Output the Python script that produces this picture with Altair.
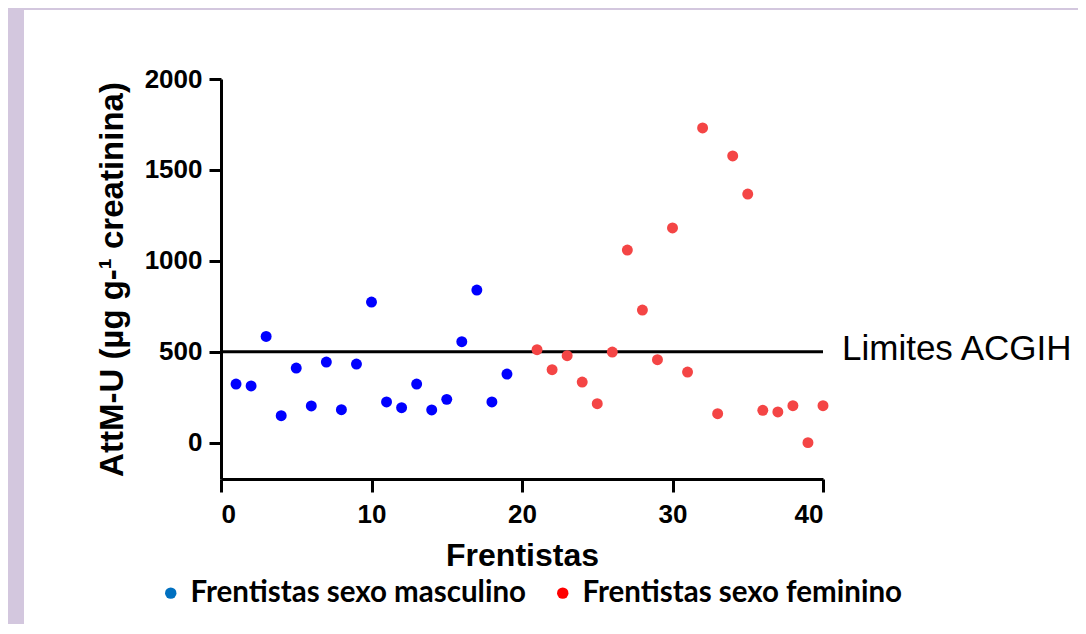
import altair as alt
import pandas as pd

# ---- data ----
male_ids = [1, 2, 3, 4, 5, 6, 7, 8, 9, 10, 11, 12, 13, 14, 15, 16, 17, 18, 19]
male_values = [322, 312, 584, 148, 410, 202, 443, 181, 432, 773, 224, 192, 322, 180, 238, 555, 839, 224, 377]
female_ids = [21, 22, 23, 24, 25, 26, 27, 28, 29, 30, 31, 32, 33, 34, 35, 36, 37, 38, 39, 40]
female_values = [511, 401, 478, 333, 214, 498, 1059, 729, 456, 1181, 388, 1731, 159, 1577, 1367, 178, 169, 203, 0, 203]
series_names = ["Frentistas sexo masculino", "Frentistas sexo feminino"]
point_colors = ["#0000FF", "#F44545"]
legend_colors = ["#0070C0", "#FF0000"]
limit_value = [500]
limit_label = ["Limites ACGIH"]
limit_start = [0]
limit_end = [40]
x_ticks = [0, 10, 20, 30, 40]
y_ticks = [0, 500, 1000, 1500, 2000]
x_domain = [0, 40]
y_domain = [-200, 2000]

df = pd.DataFrame({
    "frentista": male_ids + female_ids,
    "attmu": male_values + female_values,
    "grupo": [series_names[0]] * len(male_ids) + [series_names[1]] * len(female_ids),
})
limit_df = pd.DataFrame({"frentista": limit_start, "x1": limit_end, "attmu": limit_value, "label": limit_label})
panel_df = pd.DataFrame({"a": [0]})

FONT = "Liberation Sans"
X_TITLE = "Frentistas"
Y_TITLE = "AttM-U (µg g-¹ creatinina)"

x_scale = alt.Scale(domain=x_domain, nice=False, zero=False)
y_scale = alt.Scale(domain=y_domain, nice=False, zero=False)

x_axis = alt.Axis(values=x_ticks, title=X_TITLE, tickSize=13, labelPadding=9,
                  titlePadding=13, titleFontSize=32, labelFontSize=26, format="d", zindex=1)
y_axis = alt.Axis(values=y_ticks, title=Y_TITLE, tickSize=12,
                  labelPadding=7, titlePadding=15, titleFontSize=33, labelFontSize=26,
                  titleLimit=1000, format="d", zindex=1)


def xq(field):
    return alt.X(field, scale=x_scale, axis=x_axis, title=X_TITLE)


def yq(field):
    return alt.Y(field, scale=y_scale, axis=y_axis, title=Y_TITLE)


panel = alt.Chart(panel_df).mark_rect(color="white").encode(
    x=alt.value(-197), x2=alt.value(857), y=alt.value(-69), y2=alt.value(547)
)

rule = alt.Chart(limit_df).mark_rule(color="black", strokeWidth=3).encode(
    x=xq("frentista:Q"),
    x2="x1:Q",
    y=yq("attmu:Q"),
)

label = alt.Chart(limit_df).mark_text(
    align="left", baseline="alphabetic", dx=19, dy=8, fontSize=35, font=FONT, color="black"
).encode(
    x=alt.X("x1:Q", scale=x_scale, axis=x_axis, title=X_TITLE),
    y=yq("attmu:Q"),
    text="label:N",
)

legend_layer = alt.Chart(df).mark_circle(size=60, opacity=1).encode(
    x=xq("frentista:Q"),
    y=yq("attmu:Q"),
    color=alt.Color(
        "grupo:N",
        scale=alt.Scale(domain=series_names, range=legend_colors),
        legend=alt.Legend(
            title=None, orient="none", legendX=-65, legendY=499, direction="horizontal",
            labelFont="Lato", labelFontSize=29.5, labelFontWeight="bold", labelColor="black",
            symbolSize=130, symbolType="circle", labelOffset=5, columnPadding=21,
            labelLimit=600, symbolStrokeWidth=0,
        ),
    ),
)

points = alt.Chart(df).mark_circle(size=120, opacity=1).encode(
    x=xq("frentista:Q"),
    y=yq("attmu:Q"),
    fill=alt.Fill("grupo:N", scale=alt.Scale(domain=series_names, range=point_colors), legend=None),
)

chart = alt.layer(panel, rule, label, legend_layer, points).resolve_scale(
    color="independent", fill="independent"
).properties(
    width=602,
    height=400,
    autosize=alt.AutoSizeParams(type="none"),
    padding={"left": 213, "top": 71, "right": 255, "bottom": 145},
    background="#D3C7DE",
).configure_view(
    stroke=None
).configure_axis(
    domainColor="black", domainWidth=3, tickColor="black", tickWidth=3, grid=False,
    labelFont=FONT, labelFontWeight="bold", labelColor="black",
    titleFont=FONT, titleFontWeight="bold", titleColor="black",
)

chart.save("out.html", embed_options={"renderer": "svg", "actions": False})
